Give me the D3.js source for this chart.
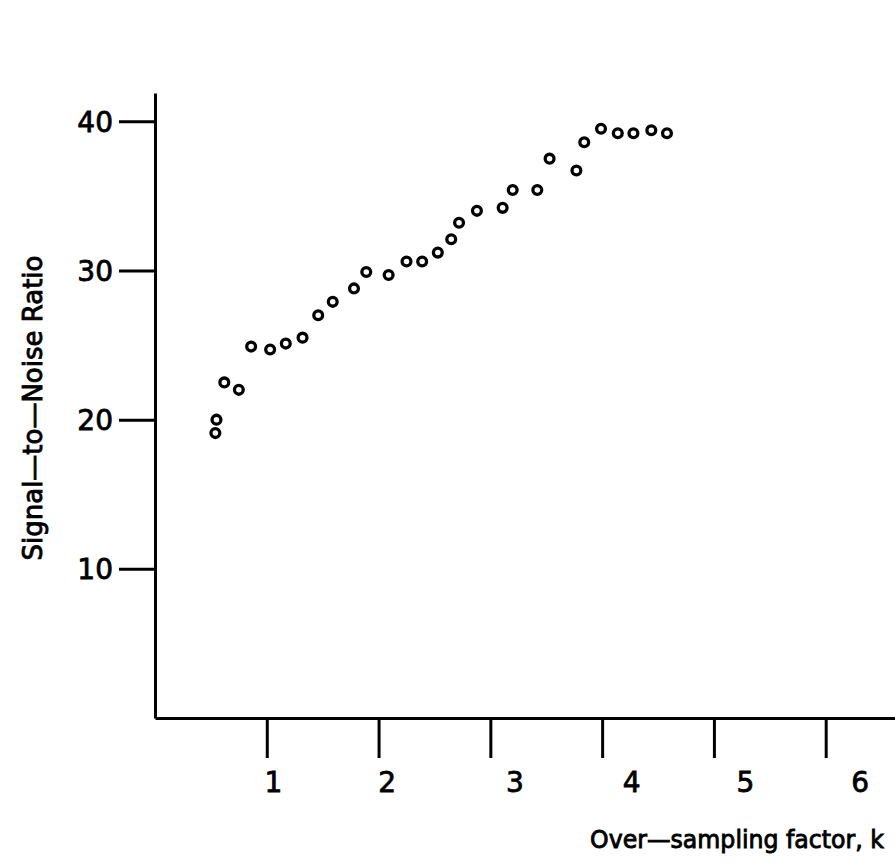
<!DOCTYPE html>
<html>
<head>
<meta charset="utf-8">
<script src="https://cdn.jsdelivr.net/npm/d3@7"></script>
<style>
  body { margin: 0; background: #fff; }
  svg { display: block; }
  text { font-family: "DejaVu Sans", sans-serif; fill: #000; }
</style>
</head>
<body>
<div id="chart"></div>
<script>
// data
const kValues = [0.55, 0.54, 0.62, 0.75, 0.86, 1.03, 1.17, 1.32, 1.46, 1.59,
  1.78, 1.89, 2.09, 2.25, 2.39, 2.53, 2.65, 2.72, 2.88, 3.11,
  3.20, 3.42, 3.53, 3.77, 3.84, 3.99, 4.14, 4.28, 4.44, 4.58];
const snrValues = [20.0, 19.1, 22.5, 22.0, 24.9, 24.7, 25.1, 25.5, 27.0, 27.9,
  28.8, 29.9, 29.7, 30.6, 30.6, 31.2, 32.1, 33.2, 34.0, 34.2,
  35.4, 35.4, 37.5, 36.7, 38.6, 39.5, 39.2, 39.2, 39.4, 39.2];
const xTicks = [1, 2, 3, 4, 5, 6];
const yTicks = [10, 20, 30, 40];
// label nudges seen in the original (labels sit right of their ticks)
const xLabelShift = [6, 8, 24, 29, 31, 34];

const width = 895, height = 867;

const svg = d3.select("#chart")
  .append("svg")
  .attr("width", width)
  .attr("height", height);

// scales
const x = d3.scaleLinear().domain([0, 6.62]).range([155, 895]);
const y = d3.scaleLinear().domain([0, 41.9]).range([718, 93]);

// y axis
const yAxis = svg.append("g")
  .attr("transform", `translate(${x(0)},0)`)
  .call(d3.axisLeft(y).tickValues(yTicks).tickFormat(d3.format("d"))
    .tickSize(36).tickSizeOuter(0).tickPadding(6));

// x axis
const xAxis = svg.append("g")
  .attr("transform", `translate(0,${y(0)})`)
  .call(d3.axisBottom(x).tickValues(xTicks).tickFormat(d3.format("d"))
    .tickSize(40).tickSizeOuter(0).tickPadding(14));

[xAxis, yAxis].forEach(g => {
  g.select(".domain").attr("stroke", "#000").attr("stroke-width", 3);
  g.selectAll(".tick line").attr("stroke", "#000").attr("stroke-width", 3);
  g.selectAll(".tick text")
    .attr("font-size", 28)
    .attr("font-family", "DejaVu Sans")
    .attr("fill", "#000")
    .attr("stroke", "#000")
    .attr("stroke-width", 0.8);
});

xAxis.selectAll(".tick text")
  .attr("dx", (d, i) => xLabelShift[i]);

yAxis.selectAll(".tick text")
  .attr("dy", "0.36em");

// points
svg.append("g")
  .selectAll("circle")
  .data(kValues.map((k, i) => [k, snrValues[i]]))
  .enter()
  .append("circle")
  .attr("cx", d => x(d[0]))
  .attr("cy", d => y(d[1]))
  .attr("r", 4.4)
  .attr("fill", "none")
  .attr("stroke", "#000")
  .attr("stroke-width", 3.3);

// axis titles (squeezed horizontally to the width seen in the original)
function squeezeTo(sel, w) {
  const natural = sel.node().getComputedTextLength();
  return Math.min(1, w / natural);
}

const xTitleG = svg.append("g");
const xTitle = xTitleG.append("text")
  .attr("text-anchor", "end")
  .attr("font-size", 25)
  .attr("stroke", "#000")
  .attr("stroke-width", 0.9)
  .text("Over\u2014sampling factor, k");
xTitleG.attr("transform", `translate(884,848) scale(${squeezeTo(xTitle, 294)},1)`);

const yTitleG = svg.append("g");
const yTitle = yTitleG.append("text")
  .attr("text-anchor", "middle")
  .attr("font-size", 26)
  .attr("stroke", "#000")
  .attr("stroke-width", 0.9)
  .text("Signal\u2014to\u2014Noise Ratio");
yTitleG.attr("transform", `translate(42,408) rotate(-90) scale(${squeezeTo(yTitle, 305)},1)`);
</script>
</body>
</html>
